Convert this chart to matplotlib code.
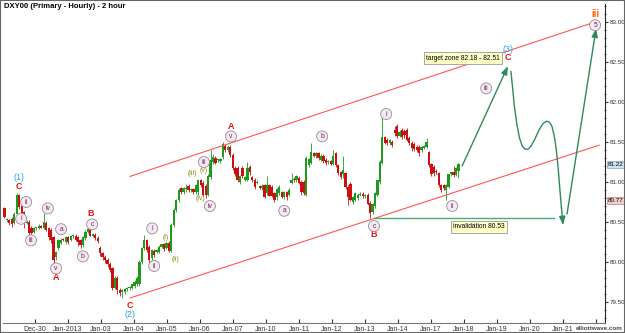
import matplotlib
matplotlib.use('Agg')
import matplotlib.pyplot as plt
import numpy as np
from matplotlib.patches import Rectangle

plt.rcParams['font.family'] = ['Liberation Sans', 'DejaVu Sans']

# 2 hour candles, DXY00
opens = [80.51, 80.67, 80.52, 80.53, 80.54, 80.49, 80.60, 80.84, 80.70, 80.62,
         80.49, 80.50, 80.43, 80.38, 80.42, 80.42, 80.44, 80.43, 80.49, 80.42,
         80.40, 80.31, 80.06, 80.18, 80.24, 80.28, 80.25, 80.31, 80.28, 80.32,
         80.33, 80.31, 80.27, 80.21, 80.30, 80.38, 80.41, 80.33, 80.34, 80.30,
         80.18, 80.11, 80.06, 80.03, 79.98, 79.92, 79.68, 79.80, 79.65, 79.63,
         79.62, 79.66, 79.67, 79.68, 79.70, 79.72, 79.72, 80.00, 80.17, 80.27,
         80.19, 80.05, 80.14, 80.13, 80.13, 80.19, 80.22, 80.18, 80.24, 80.14,
         80.46, 80.65, 80.77, 80.92, 80.87, 80.91, 80.95, 80.90, 80.91, 80.87,
         80.87, 81.02, 80.99, 80.95, 80.84, 81.06, 81.25, 81.30, 81.27, 81.26,
         81.31, 81.45, 81.40, 81.44, 81.34, 81.18, 81.18, 81.00, 81.18, 81.03,
         81.03, 81.19, 81.06, 81.03, 80.99, 80.94, 80.92, 80.96, 80.86, 80.96,
         80.94, 80.86, 80.81, 80.86, 80.87, 80.81, 80.87, 80.84, 80.99, 81.04,
         81.02, 81.05, 81.00, 81.00, 80.84, 81.21, 81.24, 81.36, 81.32, 81.36,
         81.28, 81.33, 81.28, 81.25, 81.26, 81.23, 81.36, 81.21, 81.12, 81.10,
         81.11, 80.94, 80.98, 80.75, 80.78, 80.80, 80.84, 80.85, 80.82, 80.84,
         80.74, 80.62, 80.70, 80.84, 81.00, 81.24, 81.56, 81.53, 81.49, 81.50,
         81.65, 81.70, 81.58, 81.65, 81.64, 81.65, 81.55, 81.49, 81.48, 81.44,
         81.44, 81.40, 81.43, 81.44, 81.37, 81.22, 81.19, 81.14, 81.11, 80.96,
         80.96, 80.90, 80.94, 81.10, 81.12, 81.09, 81.14]
highs = [80.53, 80.69, 80.55, 80.54, 80.56, 80.62, 80.86, 80.85, 80.78, 80.64,
         80.52, 80.52, 80.45, 80.44, 80.44, 80.47, 80.46, 80.61, 80.51, 80.44,
         80.42, 80.33, 80.14, 80.29, 80.30, 80.30, 80.33, 80.33, 80.34, 80.35,
         80.35, 80.33, 80.29, 80.33, 80.40, 80.43, 80.43, 80.36, 80.36, 80.32,
         80.20, 80.13, 80.09, 80.05, 80.00, 79.94, 79.82, 79.82, 79.67, 79.66,
         79.67, 79.69, 79.70, 79.73, 79.77, 79.82, 80.02, 80.19, 80.34, 80.29,
         80.21, 80.16, 80.16, 80.16, 80.21, 80.23, 80.24, 80.25, 80.26, 80.49,
         80.67, 80.79, 80.92, 80.94, 80.94, 80.97, 80.97, 80.93, 80.93, 80.98,
         81.03, 81.04, 81.01, 80.97, 81.10, 81.40, 81.35, 81.32, 81.29, 81.30,
         81.50, 81.47, 81.46, 81.46, 81.36, 81.20, 81.20, 81.09, 81.20, 81.08,
         81.25, 81.21, 81.08, 81.05, 81.02, 80.96, 80.97, 80.98, 81.07, 80.98,
         80.96, 80.88, 80.92, 80.96, 80.89, 80.89, 80.89, 80.92, 81.11, 81.06,
         81.09, 81.07, 81.02, 81.02, 81.32, 81.30, 81.49, 81.38, 81.38, 81.38,
         81.35, 81.35, 81.30, 81.28, 81.28, 81.40, 81.38, 81.23, 81.14, 81.33,
         81.13, 80.96, 81.00, 80.83, 80.88, 80.86, 80.87, 80.87, 80.85, 80.86,
         80.76, 80.74, 80.88, 81.03, 81.27, 81.80, 81.58, 81.55, 81.54, 81.52,
         81.70, 81.72, 81.65, 81.67, 81.66, 81.68, 81.57, 81.51, 81.50, 81.46,
         81.46, 81.45, 81.46, 81.55, 81.39, 81.24, 81.21, 81.16, 81.13, 80.98,
         80.98, 80.97, 81.10, 81.13, 81.20, 81.19, 81.24]
lows = [80.49, 80.55, 80.50, 80.46, 80.44, 80.47, 80.58, 80.66, 80.60, 80.42,
        80.47, 80.34, 80.34, 80.36, 80.40, 80.41, 80.42, 80.41, 80.39, 80.28,
        80.24, 79.99, 80.03, 80.15, 80.22, 80.26, 80.23, 80.23, 80.26, 80.30,
        80.26, 80.20, 80.18, 80.19, 80.28, 80.36, 80.32, 80.31, 80.28, 80.24,
        80.08, 80.03, 79.99, 79.94, 79.87, 79.65, 79.66, 79.60, 79.58, 79.55,
        79.60, 79.64, 79.65, 79.66, 79.68, 79.70, 79.70, 79.98, 80.15, 80.12,
        79.99, 80.03, 80.06, 80.11, 80.11, 80.17, 80.14, 80.16, 80.12, 80.12,
        80.44, 80.63, 80.75, 80.85, 80.85, 80.88, 80.88, 80.87, 80.85, 80.85,
        80.84, 80.94, 80.82, 80.80, 80.82, 81.04, 81.22, 81.22, 81.25, 81.24,
        81.29, 81.38, 81.38, 81.31, 81.15, 81.08, 81.00, 80.98, 81.05, 81.01,
        81.01, 81.09, 81.00, 80.91, 80.97, 80.91, 80.90, 80.80, 80.84, 80.82,
        80.81, 80.75, 80.78, 80.84, 80.80, 80.79, 80.78, 80.82, 80.97, 81.00,
        81.00, 80.98, 80.84, 80.84, 80.82, 81.19, 81.22, 81.31, 81.30, 81.28,
        81.26, 81.24, 81.21, 81.22, 81.21, 81.21, 81.19, 81.09, 81.04, 81.05,
        80.91, 80.71, 80.76, 80.73, 80.76, 80.78, 80.82, 80.80, 80.80, 80.71,
        80.55, 80.60, 80.68, 80.82, 80.98, 81.22, 81.48, 81.46, 81.46, 81.44,
        81.58, 81.55, 81.56, 81.54, 81.55, 81.51, 81.46, 81.39, 81.39, 81.37,
        81.33, 81.38, 81.41, 81.42, 81.19, 81.08, 81.08, 81.10, 80.94, 80.87,
        80.90, 80.78, 80.92, 81.08, 81.06, 81.07, 81.05]
closes = [80.52, 80.56, 80.54, 80.49, 80.48, 80.60, 80.84, 80.69, 80.61, 80.49,
          80.50, 80.36, 80.36, 80.43, 80.42, 80.45, 80.43, 80.50, 80.40, 80.31,
          80.27, 80.03, 80.13, 80.27, 80.28, 80.27, 80.31, 80.25, 80.32, 80.33,
          80.28, 80.25, 80.21, 80.31, 80.38, 80.41, 80.33, 80.35, 80.30, 80.26,
          80.11, 80.06, 80.02, 79.98, 79.90, 79.68, 79.80, 79.65, 79.61, 79.64,
          79.66, 79.68, 79.68, 79.72, 79.75, 79.80, 80.00, 80.17, 80.27, 80.15,
          80.02, 80.15, 80.09, 80.14, 80.19, 80.22, 80.16, 80.24, 80.14, 80.46,
          80.65, 80.77, 80.90, 80.87, 80.92, 80.93, 80.90, 80.91, 80.87, 80.96,
          81.02, 80.96, 80.84, 80.84, 81.08, 81.28, 81.31, 81.24, 81.28, 81.29,
          81.48, 81.40, 81.44, 81.34, 81.18, 81.10, 81.02, 81.07, 81.07, 81.06,
          81.17, 81.12, 81.02, 80.94, 81.00, 80.93, 80.95, 80.81, 80.96, 80.83,
          80.83, 80.78, 80.91, 80.94, 80.81, 80.87, 80.81, 80.90, 81.03, 81.02,
          81.07, 80.99, 80.87, 80.86, 81.30, 81.29, 81.38, 81.32, 81.36, 81.30,
          81.33, 81.26, 81.24, 81.26, 81.23, 81.32, 81.21, 81.11, 81.06, 81.15,
          80.94, 80.81, 80.78, 80.81, 80.86, 80.84, 80.85, 80.82, 80.83, 80.72,
          80.61, 80.73, 80.86, 81.02, 81.25, 81.56, 81.49, 81.49, 81.52, 81.46,
          81.61, 81.58, 81.63, 81.56, 81.59, 81.53, 81.49, 81.42, 81.41, 81.40,
          81.36, 81.44, 81.44, 81.50, 81.21, 81.10, 81.11, 81.12, 80.96, 80.90,
          80.92, 80.96, 81.10, 81.12, 81.09, 81.17, 81.22]

day_labels = ['Dec-30', 'Jan-2013', 'Jan-03', 'Jan-04', 'Jan-05', 'Jan-06', 'Jan-07',
              'Jan-10', 'Jan-11', 'Jan-12', 'Jan-13', 'Jan-14', 'Jan-17', 'Jan-18',
              'Jan-19', 'Jan-20', 'Jan-21', '']
price_ticks = [79.5, 80.0, 80.5, 81.0, 81.5, 82.0, 82.5, 83.0]
bars_per_day = 13.45
first_bar = -1.0

# channel lines (day, price)
upper_chan = ([2.88, 16.97], [81.07, 83.00])
lower_chan = ([2.88, 17.09], [79.55, 81.46])
invalid_line = ([10.27, 15.73], [80.55, 80.55])

# projected path
leg_c = ([12.94, 14.33], [81.20, 82.45])
leg_curve_t = [14.42, 14.47, 14.52, 14.60, 14.68, 14.76, 14.85, 14.94, 15.03, 15.15,
               15.27, 15.39, 15.50, 15.58, 15.66, 15.73, 15.79, 15.85, 15.90, 15.95, 16.00]
leg_curve_p = [82.38, 82.18, 81.96, 81.72, 81.55, 81.45, 81.41, 81.41, 81.45, 81.54,
               81.65, 81.73, 81.76, 81.75, 81.70, 81.58, 81.42, 81.18, 80.92, 80.68, 80.46]
leg_up = ([16.12, 17.00], [80.60, 82.92])

# wave labels: (text, day, price)
red_labels = [('C', -0.48, 80.94), ('A', 0.64, 79.81), ('B', 1.70, 80.60),
              ('C', 2.88, 79.46), ('A', 5.94, 81.69), ('B', 10.27, 80.34),
              ('C', 14.33, 82.55)]
blue_labels = [('(1)', -0.48, 81.06), ('(2)', 2.88, 79.34), ('(3)', 14.33, 82.66)]
olive_labels = [('(i)', 3.97, 80.31), ('(ii)', 4.27, 80.03), ('(iii)', 4.76, 81.11),
                ('(iv)', 5.00, 80.80), ('(v)', 5.12, 81.14)]
circle_labels = [('ii', -0.27, 80.75), ('i', -0.42, 80.54), ('iii', -0.12, 80.27),
                 ('iv', 0.39, 80.67), ('v', 0.64, 79.92), ('a', 0.79, 80.41),
                 ('b', 1.45, 80.07), ('c', 1.73, 80.47), ('i', 3.55, 80.42),
                 ('ii', 3.61, 79.95), ('iii', 5.12, 81.25), ('iv', 5.30, 80.70),
                 ('v', 5.94, 81.57), ('a', 7.55, 80.64), ('b', 8.70, 81.57),
                 ('c', 10.27, 80.45), ('i', 10.64, 81.85), ('ii', 12.64, 80.70),
                 ('iii', 13.67, 82.17), ('5', 16.97, 82.96)]

opens = np.array(opens); highs = np.array(highs)
lows = np.array(lows); closes = np.array(closes)
x = first_bar + np.arange(len(opens)) / bars_per_day

up_col = '#1e9a1e'
dn_col = '#cc1010'
cols = np.where(closes >= opens, up_col, dn_col)

fig = plt.figure(figsize=(6.25, 3.33), dpi=100)
ax = fig.add_axes([3/625, 10/333, 602/625, 320/333])

ax.vlines(x, lows, highs, colors=cols, lw=0.6)
ax.bar(x, np.maximum(np.abs(closes - opens), 0.015), bottom=np.minimum(opens, closes),
       width=0.068, color=cols, lw=0)

ax.plot(*upper_chan, color='#ff5555', lw=0.8)
ax.plot(*lower_chan, color='#ff5555', lw=0.8)
ax.plot(*invalid_line, color='#4aaa72', lw=1.0)

green = '#2e8b57'
aprops = dict(arrowstyle='-|>,head_length=0.5,head_width=0.18', color=green, lw=1.0,
              shrinkA=0, shrinkB=0)
ax.annotate('', xy=(leg_c[0][1], leg_c[1][1]), xytext=(leg_c[0][0], leg_c[1][0]), arrowprops=aprops)
ax.plot(leg_curve_t[:-1], leg_curve_p[:-1], color=green, lw=1.0)
ax.annotate('', xy=(leg_curve_t[-1], leg_curve_p[-1]), xytext=(leg_curve_t[-2], leg_curve_p[-2]),
            arrowprops=aprops)
ax.annotate('', xy=(leg_up[0][1], leg_up[1][1]), xytext=(leg_up[0][0], leg_up[1][0]), arrowprops=aprops)

for s, d, p in red_labels:
    ax.text(d, p, s, color='#ee1111', fontsize=6.5, ha='center', va='center', fontweight='bold')
for s, d, p in blue_labels:
    ax.text(d, p, s, color='#22aaee', fontsize=6.5, ha='center', va='center')
for s, d, p in olive_labels:
    ax.text(d, p, s, color='#8a8a10', fontsize=5, ha='center', va='center')
for s, d, p in circle_labels:
    ax.text(d, p, s, color='#7a1a5a', fontsize=4.8, ha='center', va='center',
            bbox=dict(boxstyle='circle,pad=0.3', fc='#f2eaf0', ec='#9a8a95', lw=0.6))
ax.text(16.97, 83.10, 'iii', color='#ff6a00', fontsize=7, ha='center', va='center',
        fontweight='bold')

box = dict(boxstyle='square,pad=0.35', fc='#ffffc8', ec='#999999', lw=0.6)
ax.text(12.97, 82.55, 'target zone 82.18 - 82.51', fontsize=4.8, ha='center', va='center', bbox=box)
ax.text(13.45, 80.44, 'invalidation 80.53', fontsize=4.8, ha='center', va='center', bbox=box)

# last price tags on the axis
trans = ax.get_yaxis_transform()
ax.text(1.004, 81.22, '81.22', transform=trans, fontsize=4.5, va='center', ha='left',
        bbox=dict(boxstyle='square,pad=0.12', fc='#cfe3ef', ec='#7fa5c0', lw=0.5))
ax.text(1.004, 80.77, '80.77', transform=trans, fontsize=4.5, va='center', ha='left',
        bbox=dict(boxstyle='square,pad=0.12', fc='#f5cccc', ec='#c08080', lw=0.5))

ax.set_xlim(-0.97, 17.27)
ax.set_ylim(79.2375, 83.2375)
ax.set_xticks(np.arange(len(day_labels)))
ax.set_xticklabels(day_labels)
ax.set_yticks(price_ticks)
ax.set_yticklabels(['%.2f' % v for v in price_ticks])
ax.set_yticks(np.arange(79.3, 83.25, 0.1), minor=True)
ax.yaxis.tick_right()
ax.tick_params(axis='x', labelsize=5, length=3, direction='in', pad=2, colors='#333333')
ax.tick_params(axis='y', which='major', labelsize=4.5, length=2.5, direction='out', pad=1,
               colors='#333333')
ax.tick_params(axis='y', which='minor', length=1.5, direction='inout', colors='#333333')
ax.spines['left'].set_visible(False)
ax.spines['top'].set_visible(False)
ax.spines['bottom'].set_color('#777777')
ax.spines['right'].set_color('#222222')
ax.spines['right'].set_linestyle((0, (2, 1)))

fig.text(4/625, 1 - 7/333, 'DXY00 (Primary - Hourly) - 2 hour', fontsize=5.5,
         fontweight='bold', va='center', ha='left')
fig.text(0.996, 2/333, 'elliottwave.com', fontsize=4.5, fontweight='bold', color='#444444',
         ha='right', va='bottom')
fig.patches.append(Rectangle((0, 0), 1, 1, transform=fig.transFigure, fill=False,
                             ec='#666666', lw=1.5))

plt.savefig('out.png', dpi=100)
